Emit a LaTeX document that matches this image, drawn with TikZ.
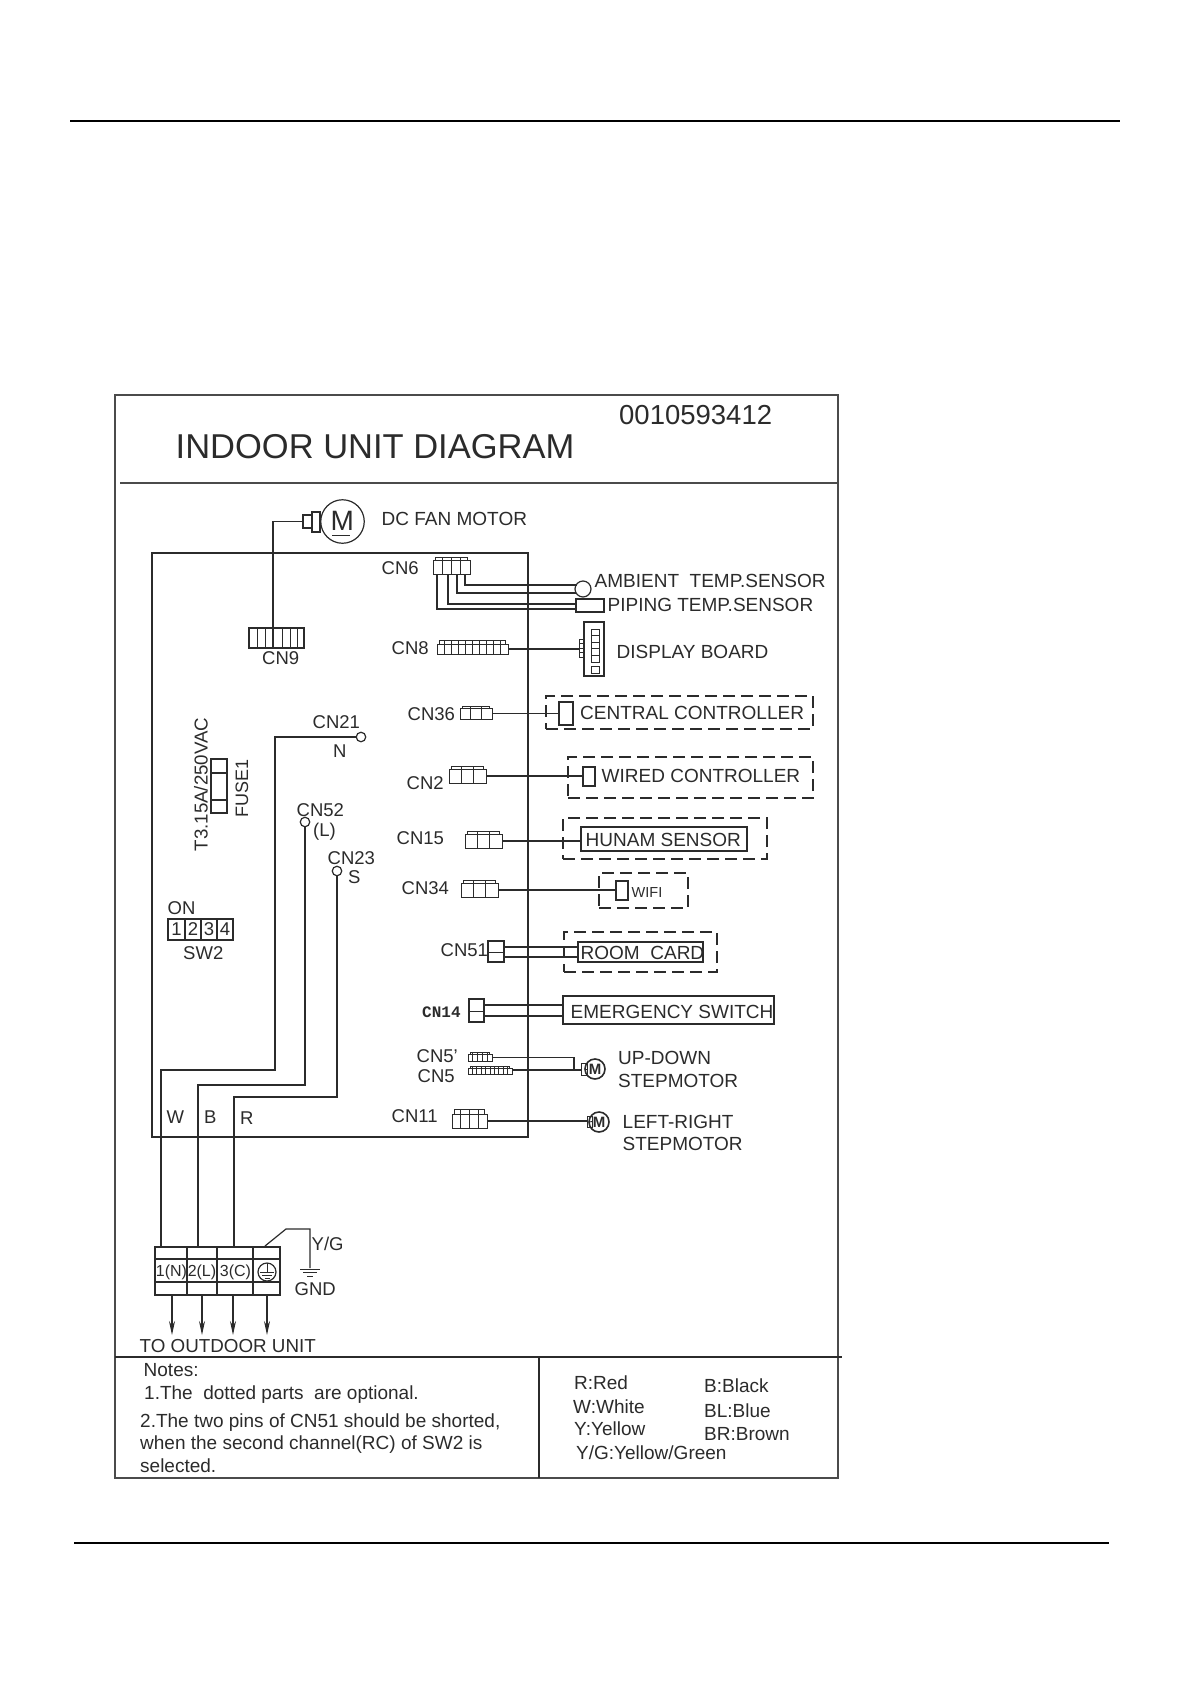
\documentclass[tikz,border=0pt]{standalone}
\usepackage{fontspec}
\setmainfont{Liberation Sans}
\newfontfamily\cnmono[Scale=1]{Liberation Mono}
\usetikzlibrary{arrows.meta}
\definecolor{ink}{HTML}{2B2B2B}
\tikzset{
  ln/.style={draw=ink,line width=1.2pt},
  fr/.style={draw=ink!85,line width=1.5pt},
  wire/.style={draw=ink,line width=1.3pt},
  dash box/.style={draw=ink,line width=1.3pt,dash pattern=on 12pt off 6pt},
  fine/.style={draw=ink,line width=0.9pt},
  out arrow/.style={draw=ink,line width=1.2pt,-{Stealth[length=14pt,width=6pt]}},
}
\newcommand\lab[5]{\node[anchor=base west,inner sep=0,text=ink,font=\fontsize{#4}{#4}\selectfont] (#1) at (#2,{#3+0.358*#4}) {#5};}
\newcommand\bx[6][ln]{\node[#1,inner sep=0,outer sep=0,minimum width={(#5-#3)*1pt},minimum height={(#6-#4)*1pt}] (#2) at ({(#3+#5)/2},{(#4+#6)/2}) {};}
% name x1 y1 x2 y2 striptop dividers
\newcommand\plug[7]{\bx[fine]{#1}{#2}{#3}{#4}{#5}%
  \draw[fine] ({#2+2.5},#3) -- ({#2+2.5},#6) -- ({#4-2.5},#6) -- ({#4-2.5},#3);%
  \foreach \i in {1,...,#7}{\pgfmathsetmacro\xx{#2+(#4-#2)*\i/(#7+1)}\draw[fine] (\xx,#6) -- (\xx,#5);}}
\newcommand\smotor[3]{\node[draw=ink,line width=1.6pt,circle,inner sep=0,outer sep=0,minimum size=20pt,font=\fontsize{15}{15}\bfseries\selectfont,text=ink] (#1) at (#2,#3) {M};}
\begin{document}
\begin{tikzpicture}[x=1pt,y=-1pt]
\useasboundingbox (0,0) rectangle (1190,1684);
% page rules
\coordinate (ruleAa) at (70,121); \coordinate (ruleAb) at (1120,121);
\coordinate (ruleBa) at (74,1543); \coordinate (ruleBb) at (1109,1543);
\draw[black,line width=2pt] (ruleAa) -- (ruleAb);
\draw[black,line width=2pt] (ruleBa) -- (ruleBb);
% frame
\bx[fr]{frame}{115}{395}{838}{1478}
\coordinate (tla) at (120,483); \coordinate (tlb) at (838,483);
\coordinate (nla) at (115,1357); \coordinate (nlb) at (842,1357);
\coordinate (nva) at (539,1357); \coordinate (nvb) at (539,1478);
\draw[fr] (tla) -- (tlb);
\draw[ln] (nla) -- (nlb);
\draw[ln] (nva) -- (nvb);
\lab{title}{175.5}{446}{34.5}{INDOOR UNIT DIAGRAM}
\lab{number}{619}{414.5}{27.5}{0010593412}
% board
\bx[ln]{board}{152}{553}{528}{1137}
% fan motor
\node[ln,circle,inner sep=0,outer sep=0,minimum size=43.5pt] (fan) at (342.5,521.5) {};
\lab{fanM}{330.5}{520}{28}{M}
\coordinate (fua) at (332,535); \coordinate (fub) at (350,535);
\draw[fine] (fua) -- (fub);
\bx[ln]{fanplugB}{312}{512}{320}{532}
\bx[ln]{fanplugA}{303}{515}{312}{528}
\lab{fanlab}{381.5}{519}{19}{DC FAN MOTOR}
% CN9
\bx[ln]{cn9}{249}{628}{304}{648}
\foreach \xx in {257,265,273,282,290,297}{\draw[fine] (\xx,628) -- (\xx,648);}
\coordinate (cn9w) at (273,648);
\draw[wire] (fanplugA.west) -| (cn9w);
\lab{cn9lab}{262}{658}{18.5}{CN9}
% CN6
\lab{cn6lab}{381.5}{568}{18.5}{CN6}
\plug{cn6}{433}{560}{470}{574}{557}{3}
\node[ln,circle,inner sep=0,outer sep=0,minimum size=16pt] (amb) at (583,589) {};
\bx[ln]{pipe}{576}{599}{604}{612}
\coordinate (w1a) at (465,574); \coordinate (w1b) at (577,585);
\coordinate (w2a) at (457,574); \coordinate (w2b) at (576,593);
\coordinate (w3a) at (448,574); \coordinate (w3b) at (576,604);
\coordinate (w4a) at (437,574); \coordinate (w4b) at (576,609);
\draw[wire] (w1a) |- (w1b);
\draw[wire] (w2a) |- (w2b);
\draw[wire] (w3a) |- (w3b);
\draw[wire] (w4a) |- (w4b);
\lab{amblab}{594.5}{581}{19}{AMBIENT\ \ TEMP.SENSOR}
\lab{pipelab}{607.5}{604.5}{19}{PIPING TEMP.SENSOR}
% CN8
\lab{cn8lab}{391.5}{648}{18.5}{CN8}
\plug{cn8}{437}{644}{508}{654}{640}{9}
\bx[ln]{disp}{584}{622}{604}{676}
\bx[fine]{dispc}{579}{639}{584}{657}
\foreach \yy in {629,635.6,642.2,648.8,655.4}{\draw[fine] (591,\yy) rectangle (599,\yy+6.6);}
\draw[fine] (591,666) rectangle (599,673);
\foreach \yy in {643.5,648,652.5}{\draw[fine] (579,\yy) -- (584,\yy);}
\draw[wire] (cn8.east) -- (cn8.east -| dispc.west);
\lab{displab}{616.5}{652}{19}{DISPLAY BOARD}
% CN36
\lab{cn36lab}{407.5}{713.5}{18.5}{CN36}
\plug{cn36}{460}{708}{492}{719}{706}{2}
\bx[dash box]{ccd}{546}{696}{813}{729}
\bx[ln]{ccb}{559}{702}{573}{725}
\draw[wire] (cn36.east) -- (cn36.east -| ccb.west);
\lab{cclab}{580}{713}{19}{CENTRAL CONTROLLER}
% CN2
\lab{cn2lab}{406.5}{783}{18.5}{CN2}
\plug{cn2}{449}{769}{486}{783}{766}{2}
\bx[dash box]{wcd}{568}{757}{813}{798}
\bx[ln]{wcb}{583}{767}{595}{786}
\coordinate (wcw) at (583,776);
\draw[wire] (cn2.east) -- (wcw);
\lab{wclab}{601.5}{776}{19}{WIRED CONTROLLER}
% CN15
\lab{cn15lab}{396.5}{838}{18.5}{CN15}
\plug{cn15}{465}{834}{502}{848}{831}{2}
\bx[dash box]{hsd}{563}{818}{767}{859}
\bx[ln]{hsb}{581}{827}{747}{851}
\draw[wire] (cn15.east) -- (cn15.east -| hsb.west);
\lab{hslab}{585.5}{839.5}{19}{HUNAM SENSOR}
% CN34
\lab{cn34lab}{401.5}{888}{18.5}{CN34}
\plug{cn34}{461}{883}{498}{897}{880}{2}
\bx[dash box]{wfd}{599}{873}{688}{908}
\bx[ln]{wfb}{616}{881}{628}{900}
\draw[wire] (cn34.east) -- (cn34.east -| wfb.west);
\lab{wflab}{631.5}{892}{14.5}{WIFI}
% CN51
\lab{cn51lab}{440.5}{950}{18.5}{CN51}
\bx[ln]{cn51}{488}{941}{504}{962}
\coordinate (c51m) at (488,952); \coordinate (c51n) at (504,952);
\draw[fine] (c51m) -- (c51n);
\bx[dash box]{rcd}{564}{932}{717}{972}
\bx[ln]{rcb}{578}{942}{703}{962}
\coordinate (r1a) at (504,947); \coordinate (r1b) at (578,947);
\coordinate (r2a) at (504,957); \coordinate (r2b) at (578,957);
\draw[wire] (r1a) -- (r1b);
\draw[wire] (r2a) -- (r2b);
\lab{rclab}{580.5}{952.5}{19}{ROOM\ \ CARD}
% CN14
\node[anchor=base west,inner sep=0,text=ink,font=\cnmono\bfseries\fontsize{16}{16}\selectfont] (cn14lab) at (422,1017) {CN14};
\bx[ln]{cn14}{469}{999}{484}{1022}
\coordinate (c14m) at (469,1011); \coordinate (c14n) at (484,1011);
\draw[fine] (c14m) -- (c14n);
\bx[ln]{emb}{563}{996}{774}{1024}
\coordinate (e1a) at (484,1005); \coordinate (e1b) at (563,1005);
\coordinate (e2a) at (484,1016); \coordinate (e2b) at (563,1016);
\draw[wire] (e1a) -- (e1b);
\draw[wire] (e2a) -- (e2b);
\lab{emlab}{570.5}{1011.5}{19}{EMERGENCY SWITCH}
% CN5', CN5
\lab{cn5plab}{416.5}{1056}{18.5}{CN5'}
\lab{cn5lab}{417.5}{1076}{18.5}{CN5}
\plug{cn5p}{468}{1054}{492}{1061}{1052}{4}
\plug{cn5}{468}{1068}{512}{1074}{1066}{9}
\smotor{udm}{595}{1069}
\bx[fine]{udc}{581}{1063}{587}{1075}
\coordinate (c5j) at (574,1070);
\draw[wire] (cn5p.east) -| (c5j);
\draw[wire] (cn5.east |- c5j) -- (udc.west |- c5j);
\draw[fine] (udc.east) -- (udm.west);
\lab{ud1}{618}{1058}{19}{UP-DOWN}
\lab{ud2}{618}{1081}{19}{STEPMOTOR}
% CN11
\lab{cn11lab}{391.5}{1116}{18.5}{CN11}
\plug{cn11}{452}{1114}{487}{1128}{1109}{3}
\smotor{lrm}{599}{1122}
\bx[fine]{lrc}{587}{1116}{592}{1127}
\draw[wire] (cn11.east) -- (cn11.east -| lrc.west);
\draw[fine] (lrc.east) -- (lrm.west);
\lab{lr1}{622.5}{1122}{19}{LEFT-RIGHT}
\lab{lr2}{622.5}{1144}{19}{STEPMOTOR}
% CN21 CN52 CN23
\lab{cn21lab}{312.5}{722}{18.5}{CN21}
\lab{nlab}{333}{751}{18.5}{N}
\node[ln,fill=white,circle,inner sep=0,outer sep=0,minimum size=9.5pt] (cn21) at (361,737) {};
\lab{cn52lab}{296.5}{810}{18.5}{CN52}
\lab{llab}{313}{830}{18.5}{(L)}
\node[ln,fill=white,circle,inner sep=0,outer sep=0,minimum size=9.5pt] (cn52) at (305,822) {};
\lab{cn23lab}{327.5}{858}{18.5}{CN23}
\lab{slab}{348}{877}{18.5}{S}
\node[ln,fill=white,circle,inner sep=0,outer sep=0,minimum size=9.5pt] (cn23) at (337,871) {};
% fuse, switch
\node[rotate=90,inner sep=0,text=ink,font=\fontsize{18.7}{18.7}\selectfont] (fval) at (201,784.5) {T3.15A/250VAC};
\node[rotate=90,inner sep=0,text=ink,font=\fontsize{18}{18}\selectfont] (fname) at (242,788) {FUSE1};
\bx[ln]{fuse}{211}{759}{227}{813}
\coordinate (fa) at (211,773); \coordinate (fb) at (227,773);
\coordinate (fc) at (211,800); \coordinate (fd) at (227,800);
\draw[ln] (fa) -- (fb);
\draw[ln] (fc) -- (fd);
\lab{onlab}{167.5}{908}{18.5}{ON}
\bx[ln]{sw2}{168}{919}{233}{940}
\foreach \xx/\nn in {176.5/1,193/2,209/3,225/4}{\node[inner sep=0,text=ink,font=\fontsize{18.5}{18.5}\selectfont] (sw\nn) at (\xx,929.5) {\nn};}
\foreach \xx in {185,201,217}{\draw[ln] (\xx,919) -- (\xx,940);}
\lab{sw2lab}{183}{953}{18.5}{SW2}
% terminal
\bx[ln]{t1}{155}{1247}{187}{1295}
\bx[ln]{t2}{187}{1247}{217}{1295}
\bx[ln]{t3}{217}{1247}{253}{1295}
\bx[ln]{t4}{253}{1247}{280}{1295}
\draw[ln] (t1.west |- 0,1259) -- (t4.east |- 0,1259);
\draw[ln] (t1.west |- 0,1282) -- (t4.east |- 0,1282);
\node[inner sep=0,text=ink,font=\fontsize{16}{16}\selectfont] (t1l) at (171.5,1272) {1(N)};
\node[inner sep=0,text=ink,font=\fontsize{16}{16}\selectfont] (t2l) at (202,1272) {2(L)};
\node[inner sep=0,text=ink,font=\fontsize{16}{16}\selectfont] (t3l) at (235.5,1272) {3(C)};
\node[ln,circle,inner sep=0,outer sep=0,minimum size=18pt] (gsym) at (267,1272) {};
\draw[fine] (gsym.north) -- (gsym.center);
\draw[fine] (260,1272) -- (274,1272);
\draw[fine] (262,1275) -- (272,1275);
\draw[fine] (264.5,1278) -- (269.5,1278);
% main wires
\coordinate (nb1) at (275,1070); \coordinate (nb2) at (161,1070);
\coordinate (lb1) at (305,1085); \coordinate (lb2) at (198,1085);
\coordinate (sb1) at (337,1097); \coordinate (sb2) at (234,1097);
\coordinate (nc) at (275,737);
\draw[wire] (cn21.west) -- (nc) -- (nb1) -- (nb2) -- (nb2 |- t1.north);
\draw[wire] (cn52.south) -- (lb1) -- (lb2) -- (lb2 |- t2.north);
\draw[wire] (cn23.south) -- (sb1) -- (sb2) -- (sb2 |- t3.north);
\lab{wlab}{166.5}{1117}{18.5}{W}
\lab{blab}{204}{1117}{18.5}{B}
\lab{rlab}{240}{1118}{18.5}{R}
% ground wire
\coordinate (g1) at (265,1246); \coordinate (g2) at (286,1229); \coordinate (g3) at (310,1229); \coordinate (g4) at (310,1268);
\draw[ln] (g1) -- (g2) -- (g3) -- (g4);
\draw[fine] (300,1269) -- (320,1269);
\draw[fine] (303,1272.5) -- (317,1272.5);
\draw[fine] (307,1276) -- (313,1276);
\lab{yglab}{311.5}{1244}{18.5}{Y/G}
\lab{gndlab}{294.5}{1289}{18.5}{GND}
% arrows
\coordinate (a1) at (172,1335); \coordinate (a2) at (202,1335); \coordinate (a3) at (233,1335); \coordinate (a4) at (267,1335);
\draw[out arrow] (t1.south -| a1) -- (a1);
\draw[out arrow] (t2.south -| a2) -- (a2);
\draw[out arrow] (t3.south -| a3) -- (a3);
\draw[out arrow] (t4.south -| a4) -- (a4);
\lab{tolab}{139.5}{1346}{18.8}{TO OUTDOOR UNIT}
% notes
\lab{n0}{143.5}{1370}{19}{Notes:}
\lab{n1}{144}{1393}{19}{1.The\ \ dotted parts\ \ are optional.}
\lab{n2}{140}{1421}{19}{2.The two pins of CN51 should be shorted,}
\lab{n3}{140}{1443}{19}{when the second channel(RC) of SW2 is}
\lab{n4}{140}{1466}{19}{selected.}
\lab{k1}{574}{1383}{19}{R:Red}
\lab{k2}{573}{1407}{19}{W:White}
\lab{k3}{574}{1429}{19}{Y:Yellow}
\lab{k4}{576}{1453}{19}{Y/G:Yellow/Green}
\lab{k5}{704}{1386}{19}{B:Black}
\lab{k6}{704}{1411}{19}{BL:Blue}
\lab{k7}{704}{1434}{19}{BR:Brown}
\end{tikzpicture}
\end{document}
